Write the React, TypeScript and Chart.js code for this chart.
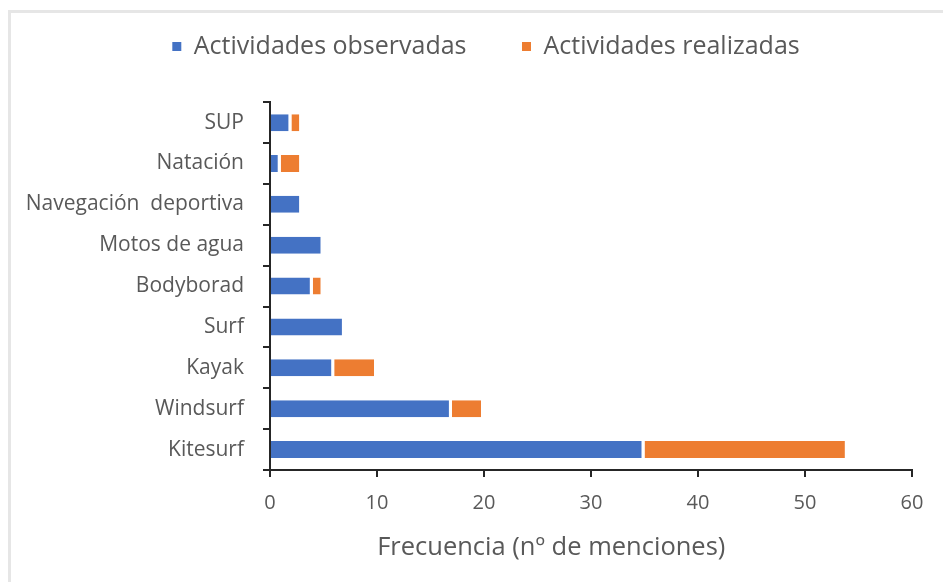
import React, { useEffect, useRef } from "react";
import { Chart, registerables } from "chart.js";

Chart.register(...registerables);

const categories = [
  "SUP",
  "Natación",
  "Navegación  deportiva",
  "Motos de agua",
  "Bodyborad",
  "Surf",
  "Kayak",
  "Windsurf",
  "Kitesurf",
];
const observadas = [2, 1, 3, 5, 4, 7, 6, 17, 35];
const realizadas = [1, 2, 0, 0, 1, 0, 4, 3, 19];
const seriesNames = ["Actividades observadas", "Actividades realizadas"];
const xTicks = [0, 10, 20, 30, 40, 50, 60];
const xTitle = "Frecuencia (nº de menciones)";

const FONT = "'Open Sans', sans-serif";
const TEXT = "#595959";
const AXIS = "#262626";

const segBorder = (ctx: any) =>
  ctx.raw ? { top: 0, bottom: 0, left: 0, right: 3 } : 0;

const legendShift = {
  id: "legendShift",
  afterLayout(chart: any) {
    const lg = chart.legend;
    if (lg) {
      lg.left += 25;
      lg.right += 25;
    }
  },
};

export default function App() {
  const ref = useRef<HTMLCanvasElement | null>(null);

  useEffect(() => {
    if (!ref.current) return;
    const chart = new Chart(ref.current, {
      type: "bar",
      data: {
        labels: categories,
        datasets: [
          {
            label: seriesNames[0],
            data: observadas,
            backgroundColor: "#4472C4",
            borderColor: "#ffffff",
            borderWidth: segBorder,
            borderSkipped: "start",
            inflateAmount: 0,
            barThickness: 17,
          },
          {
            label: seriesNames[1],
            data: realizadas,
            backgroundColor: "#ED7D31",
            borderColor: "#ffffff",
            borderWidth: segBorder,
            borderSkipped: "start",
            inflateAmount: 0,
            barThickness: 17,
          },
        ],
      },
      plugins: [legendShift],
      options: {
        indexAxis: "y",
        animation: false,
        responsive: false,
        maintainAspectRatio: false,
        layout: { padding: { left: 10, right: 31, top: 24, bottom: 15 } },
        plugins: {
          tooltip: { enabled: false },
          legend: {
            position: "top",
            labels: {
              color: TEXT,
              font: { family: FONT, size: 25 },
              boxWidth: 9,
              boxHeight: 9,
              padding: 10,
              generateLabels: (c: any) => {
                const items = (Chart as any).defaults.plugins.legend.labels.generateLabels(c);
                if (items[0]) items[0].text = items[0].text + "\u00A0".repeat(7);
                items.forEach((it: any) => {
                  it.lineWidth = 0;
                  it.strokeStyle = "rgba(0,0,0,0)";
                });
                return items;
              },
            },
          },
          title: {
            display: true,
            text: " ",
            position: "top",
            weight: 500,
            font: { size: 1 },
            padding: { top: 0, bottom: 32 },
          },
        },
        scales: {
          x: {
            stacked: true,
            min: 0,
            max: 60,
            afterBuildTicks: (s: any) => {
              s.ticks = xTicks.map((v) => ({ value: v }));
            },
            afterFit: (s: any) => {
              s.height = 97;
            },
            border: { display: true, color: AXIS, width: 2 },
            grid: {
              drawOnChartArea: false,
              drawTicks: true,
              tickLength: 7,
              tickColor: AXIS,
              lineWidth: 2,
            },
            ticks: {
              color: TEXT,
              font: { family: FONT, size: 20 },
              padding: 14,
              maxRotation: 0,
            },
            title: {
              display: true,
              text: xTitle + "\u00A0".repeat(12),
              color: TEXT,
              font: { family: FONT, size: 25.5 },
              padding: { top: 4, bottom: 4 },
            },
          },
          y: {
            stacked: true,
            afterFit: (s: any) => {
              s.width = 260;
            },
            border: { display: true, color: AXIS, width: 2 },
            grid: {
              offset: true,
              drawOnChartArea: false,
              drawTicks: true,
              tickLength: 7,
              tickColor: AXIS,
              lineWidth: 2,
            },
            ticks: {
              color: TEXT,
              font: { family: FONT, size: 21 },
              padding: 19,
            },
          },
        },
      },
    });
    return () => chart.destroy();
  }, []);

  return (
    <div style={{ position: "fixed", left: 0, top: 0, width: 943, height: 582, background: "#fff" }}>
      <div
        style={{
          position: "absolute",
          left: 8,
          top: 10,
          width: 1000,
          height: 1000,
          borderLeft: "3px solid #e6e6e6",
          borderTop: "3px solid #e6e6e6",
          pointerEvents: "none",
        }}
      />
      <canvas ref={ref} width={943} height={582} style={{ position: "absolute", left: 0, top: 0, width: 943, height: 582 }} />
    </div>
  );
}
